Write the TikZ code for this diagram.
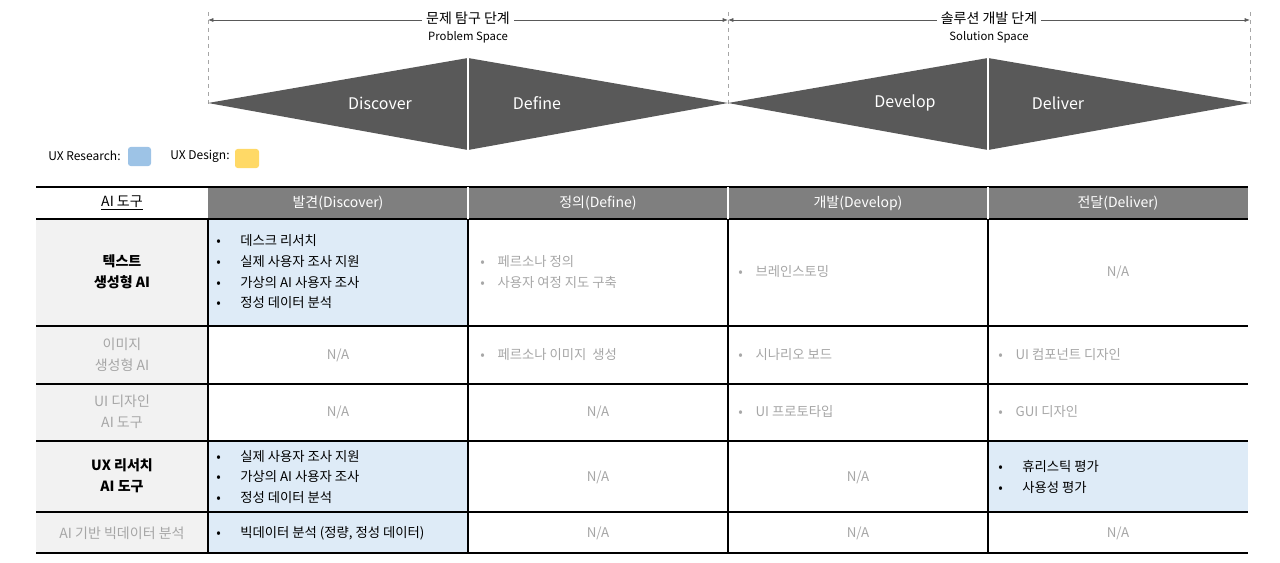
\documentclass[tikz,border=0pt]{standalone}
\usepackage{fontspec}
\setmainfont{Noto Sans CJK KR}
\usetikzlibrary{arrows.meta}
\definecolor{dg}{HTML}{595959}
\definecolor{hd}{HTML}{7F7F7F}
\definecolor{gt}{HTML}{A6A6A6}
\definecolor{lb}{HTML}{DEEBF7}
\definecolor{lg}{HTML}{F2F2F2}
\definecolor{rb}{HTML}{9DC3E6}
\definecolor{yy}{HTML}{FFD966}
\tikzset{
 tri/.style={fill=dg,draw=white,line width=0.8pt},
 phase/.style={text=white,font=\fontsize{12}{14}\selectfont},
 hdr/.style={text=white,font=\fontsize{10.5}{12}\selectfont},
 cell/.style={font=\fontsize{10}{15.5}\selectfont,align=left,anchor=west,inner sep=0},
 rowh/.style={font=\fontsize{10.5}{15.5}\selectfont,align=center},
 na/.style={text=gt,font=\fontsize{10}{12}\selectfont},
 grid/.style={line width=0.8pt,black},
 span/.style={{Latex[length=4pt]}-{Latex[length=4pt]},gray!70!black,line width=0.5pt},
}
\newcommand{\bi}{\makebox[18pt][l]{•}}
\newcommand{\bg}{\makebox[13pt][l]{•}}
\begin{document}
\begin{tikzpicture}[x=0.75pt,y=-0.75pt]
\useasboundingbox (0,0) rectangle (1280,563);
% top
\foreach \x in {208,728,1250} \draw[dashed,gray!70,line width=0.4pt] (\x,12) -- (\x,105);
\coordinate (a1) at (208,20); \coordinate (a2) at (728,20); \coordinate (a3) at (1250,20);
\draw[span] (a1) -- (a2); \draw[span] (a2) -- (a3);
\node[fill=white,font=\fontsize{10.5}{12}\selectfont,inner sep=3pt] (p1) at (468,18) {문제 탐구 단계};
\node[font=\fontsize{8.5}{10}\selectfont] (p1e) at (468,37) {Problem Space};
\node[fill=white,font=\fontsize{10.5}{12}\selectfont,inner sep=3pt] (p2) at (989,18) {솔루션 개발 단계};
\node[font=\fontsize{8.5}{10}\selectfont] (p2e) at (989,37) {Solution Space};
\fill[dg] (208,103) -- (468,58) -- (728,103) -- (468,150) -- cycle;
\fill[dg] (728,103) -- (988,58) -- (1250,103) -- (988,150) -- cycle;
\draw[white,line width=0.8pt] (468,58) -- (468,150) (988,58) -- (988,150);
\node[phase] (d1) at (380,103) {Discover};
\node[phase] (d2) at (537,103) {Define};
\node[phase] (d3) at (905,103) {Develop};
\node[phase] (d4) at (1058,103) {Deliver};
% legend
\node[anchor=west,font=\fontsize{9}{10}\selectfont,inner sep=0] (l1) at (48,156) {UX Research:};
\fill[rb,rounded corners=2pt] (128,147) rectangle (151,166);
\node[anchor=west,font=\fontsize{9}{10}\selectfont,inner sep=0] (l2) at (170,156) {UX Design:};
\fill[yy,rounded corners=2pt] (235,149) rectangle (259,168);
% table fills
\fill[hd] (208,187) rectangle (1248,219);
\fill[lg] (36,219) rectangle (208,553);
\fill[lb] (208,219) rectangle (468,326);
\fill[lb] (208,441) rectangle (468,553);
\fill[lb] (988,441) rectangle (1248,512);
% grid
\draw[line width=1.6pt] (36,187) -- (1248,187);
\foreach \y in {219,326,384,441,512,553} \draw[grid] (36,\y) -- (1248,\y);
\foreach \x in {208,468,728,988} \draw[grid] (\x,219) -- (\x,553);
\draw[white,line width=0.8pt] (468,187) -- (468,219) (728,187) -- (728,219) (988,187) -- (988,219);
% header
\node[font=\fontsize{10.5}{12}\selectfont] (h0) at (122,203) {\underline{AI 도구}};
\node[hdr] (h1) at (338,203) {발견(Discover)};
\node[hdr] (h2) at (598,203) {정의(Define)};
\node[hdr] (h3) at (858,203) {개발(Develop)};
\node[hdr] (h4) at (1118,203) {전달(Deliver)};
% row headers
\node[rowh] (r1) at (122,272) {\textbf{텍스트}\\\textbf{생성형 AI}};
\node[rowh,text=gt] (r2) at (122,355) {이미지\\생성형 AI};
\node[rowh,text=gt] (r3) at (122,412) {UI 디자인\\AI 도구};
\node[rowh] (r4) at (122,476) {\textbf{UX 리서치}\\\textbf{AI 도구}};
\node[rowh,text=gt] (r5) at (122,533) {AI 기반 빅데이터 분석};
% row 1
\node[cell] (c11) at (216,272) {\bi 데스크 리서치\\\bi 실제 사용자 조사 지원\\\bi 가상의 AI 사용자 조사\\\bi 정성 데이터 분석};
\node[cell,text=gt] (c12) at (480,272) {\bg 페르소나 정의\\\bg 사용자 여정 지도 구축};
\node[cell,text=gt] (c13) at (738,272) {\bg 브레인스토밍};
\node[na] (c14) at (1118,272) {N/A};
% row 2
\node[na] (c21) at (338,355) {N/A};
\node[cell,text=gt] (c22) at (480,355) {\bg 페르소나 이미지 \ 생성};
\node[cell,text=gt] (c23) at (738,355) {\bg 시나리오 보드};
\node[cell,text=gt] (c24) at (998,355) {\bg UI 컴포넌트 디자인};
% row 3
\node[na] (c31) at (338,412) {N/A};
\node[na] (c32) at (598,412) {N/A};
\node[cell,text=gt] (c33) at (738,412) {\bg UI 프로토타입};
\node[cell,text=gt] (c34) at (998,412) {\bg GUI 디자인};
% row 4
\node[cell] (c41) at (216,477) {\bi 실제 사용자 조사 지원\\\bi 가상의 AI 사용자 조사\\\bi 정성 데이터 분석};
\node[na] (c42) at (598,477) {N/A};
\node[na] (c43) at (858,477) {N/A};
\node[cell] (c44) at (998,477) {\bi 휴리스틱 평가\\\bi 사용성 평가};
% row 5
\node[cell] (c51) at (216,533) {\bi 빅데이터 분석 (정량, 정성 데이터)};
\node[na] (c52) at (598,533) {N/A};
\node[na] (c53) at (858,533) {N/A};
\node[na] (c54) at (1118,533) {N/A};
\end{tikzpicture}
\end{document}
